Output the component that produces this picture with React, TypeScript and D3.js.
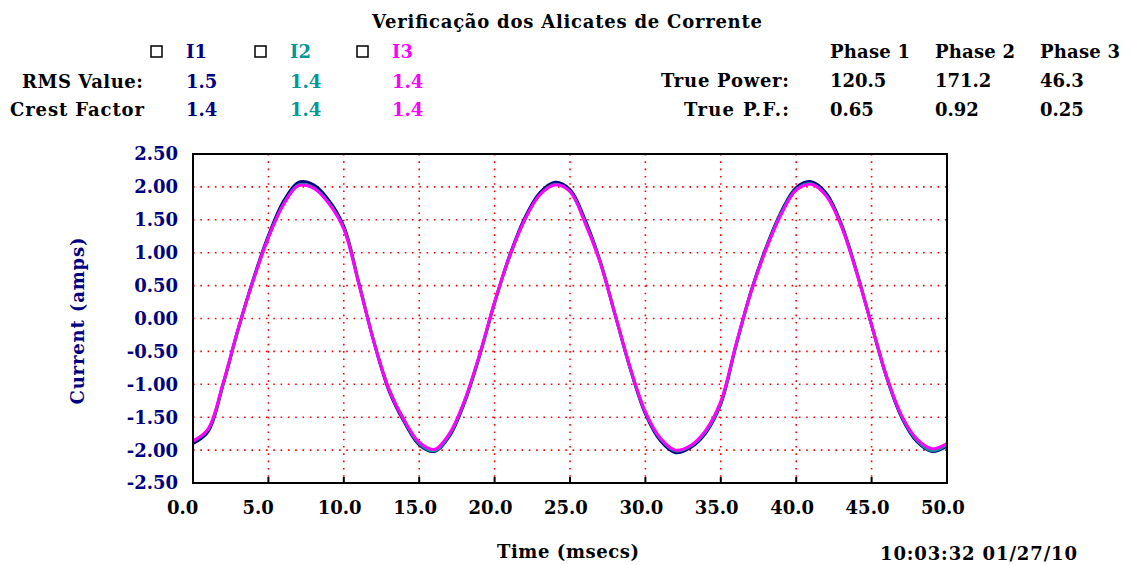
import React from "react";
import * as d3 from "d3";

// samples of the three clamp currents, one every millisecond
const sampleTimes = [
  0, 1, 2, 3, 4, 5, 6, 7, 8, 9, 10, 11, 12, 13, 14, 15, 16, 17, 18, 19, 20,
  21, 22, 23, 24, 25, 26, 27, 28, 29, 30, 31, 32, 33, 34, 35, 36, 37, 38, 39,
  40, 41, 42, 43, 44, 45, 46, 47, 48, 49, 50,
];
const i1Values = [
  -1.9, -1.72, -1.0, -0.16, 0.6, 1.26, 1.78, 2.07, 2.03, 1.8, 1.4, 0.54,
  -0.36, -1.1, -1.57, -1.92, -2.02, -1.79, -1.28, -0.57, 0.24, 0.96, 1.53,
  1.91, 2.07, 1.96, 1.5, 0.87, 0.05, -0.77, -1.45, -1.86, -2.04, -1.96, -1.74,
  -1.3, -0.42, 0.41, 1.08, 1.62, 1.99, 2.08, 1.9, 1.43, 0.72, -0.1, -0.9,
  -1.51, -1.87, -2.02, -1.94,
];
const i2Values = [
  -1.87, -1.69, -0.99, -0.16, 0.58, 1.23, 1.74, 2.03, 1.99, 1.76, 1.37, 0.53,
  -0.35, -1.07, -1.55, -1.9, -2.01, -1.77, -1.26, -0.56, 0.24, 0.94, 1.5, 1.88,
  2.04, 1.93, 1.47, 0.86, 0.05, -0.76, -1.43, -1.83, -2.01, -1.94, -1.72,
  -1.28, -0.41, 0.4, 1.06, 1.6, 1.96, 2.05, 1.87, 1.41, 0.71, -0.1, -0.89,
  -1.49, -1.85, -2.01, -1.92,
];
const i3Values = [
  -1.86, -1.68, -0.98, -0.15, 0.58, 1.23, 1.73, 2.02, 1.98, 1.75, 1.36, 0.52,
  -0.36, -1.08, -1.54, -1.88, -1.99, -1.75, -1.25, -0.55, 0.25, 0.95, 1.5,
  1.88, 2.03, 1.93, 1.45, 0.85, 0.05, -0.75, -1.42, -1.82, -2.0, -1.93, -1.7,
  -1.26, -0.4, 0.4, 1.05, 1.58, 1.95, 2.04, 1.86, 1.4, 0.7, -0.1, -0.88, -1.48,
  -1.83, -1.98, -1.9,
];

const channelNames = ["I1", "I2", "I3"];
const channelColors = ["#000080", "#009999", "#ff00ff"];
const rmsValues = ["1.5", "1.4", "1.4"];
const crestFactors = ["1.4", "1.4", "1.4"];

const phaseNames = ["Phase 1", "Phase 2", "Phase 3"];
const truePower = ["120.5", "171.2", "46.3"];
const truePF = ["0.65", "0.92", "0.25"];

const yTicks = [2.5, 2.0, 1.5, 1.0, 0.5, 0.0, -0.5, -1.0, -1.5, -2.0, -2.5];
const xTicks = [0, 5, 10, 15, 20, 25, 30, 35, 40, 45, 50];

const W = 1131;
const H = 565;
const plot = { left: 193, top: 154, right: 947, bottom: 483 };
const font = "'DejaVu Serif', serif";

export default function App() {
  const x = d3.scaleLinear().domain([0, 50]).range([plot.left, plot.right]);
  const y = d3.scaleLinear().domain([-2.5, 2.5]).range([plot.bottom, plot.top]);

  const line = d3
    .line<number>()
    .x((_, i) => x(sampleTimes[i]))
    .y((d) => y(d))
    .curve(d3.curveCatmullRom);

  const series = [i1Values, i2Values, i3Values];
  const colX = [186, 290, 392];
  const phaseX = [830, 935, 1040];

  return (
    <svg
      width={W}
      height={H}
      style={{ position: "absolute", left: 0, top: 0, background: "#fff" }}
      fontFamily={font}
      fontWeight="bold"
    >
      <text x={567} y={28} fontSize={18} textAnchor="middle" textLength={390}>
        Verificação dos Alicates de Corrente
      </text>

      {/* legend + per-channel values */}
      {channelNames.map((name, i) => (
        <g key={name}>
          <rect
            x={colX[i] - 35}
            y={46}
            width={11}
            height={11}
            fill="#fff"
            stroke="#000"
            strokeWidth={1.5}
          />
          <text x={colX[i]} y={58} fontSize={18} fill={channelColors[i]}>
            {name}
          </text>
          <text x={colX[i]} y={88} fontSize={18} fill={channelColors[i]}>
            {rmsValues[i]}
          </text>
          <text x={colX[i]} y={116} fontSize={18} fill={channelColors[i]}>
            {crestFactors[i]}
          </text>
        </g>
      ))}
      <text x={22} y={88} fontSize={18} textLength={121}>
        RMS Value:
      </text>
      <text x={10} y={116} fontSize={18} textLength={134}>
        Crest Factor
      </text>

      {/* power table */}
      <text x={661} y={87} fontSize={18} textLength={128}>
        True Power:
      </text>
      <text x={684} y={116} fontSize={18} textLength={105}>
        True P.F.:
      </text>
      {phaseNames.map((p, i) => (
        <g key={p}>
          <text x={phaseX[i]} y={58} fontSize={18} textLength={80}>
            {p}
          </text>
          <text x={phaseX[i]} y={87} fontSize={18}>
            {truePower[i]}
          </text>
          <text x={phaseX[i]} y={116} fontSize={18}>
            {truePF[i]}
          </text>
        </g>
      ))}

      {/* grid */}
      {yTicks
        .filter((t) => t > -2.5 && t < 2.5)
        .map((t) => (
          <line
            key={"gy" + t}
            x1={plot.left}
            x2={plot.right}
            y1={y(t)}
            y2={y(t)}
            stroke="#ff0000"
            strokeWidth={1.6}
            strokeDasharray="1.6 5.7"
          />
        ))}
      {xTicks
        .filter((t) => t > 0 && t < 50)
        .map((t) => (
          <line
            key={"gx" + t}
            x1={x(t)}
            x2={x(t)}
            y1={plot.top}
            y2={plot.bottom}
            stroke="#ff0000"
            strokeWidth={1.6}
            strokeDasharray="1.6 5.7"
          />
        ))}

      {/* waveforms */}
      {series.map((s, i) => (
        <path
          key={i}
          d={line(s) || ""}
          fill="none"
          stroke={channelColors[i]}
          strokeWidth={3}
          strokeLinejoin="round"
        />
      ))}

      {/* frame and ticks */}
      <rect
        x={plot.left}
        y={plot.top}
        width={plot.right - plot.left}
        height={plot.bottom - plot.top}
        fill="none"
        stroke="#000"
        strokeWidth={2}
      />
      {xTicks
        .filter((t) => t > 0 && t < 50)
        .map((t) => (
          <line
            key={"tk" + t}
            x1={x(t)}
            x2={x(t)}
            y1={plot.bottom}
            y2={plot.bottom - 6}
            stroke="#000"
            strokeWidth={2}
          />
        ))}

      {yTicks.map((t) => (
        <text
          key={"yl" + t}
          x={178}
          y={y(t)}
          dy="0.36em"
          fontSize={18}
          textAnchor="end"
          fill="#000080"
        >
          {t.toFixed(2)}
        </text>
      ))}
      {xTicks.map((t) => (
        <text key={"xl" + t} x={x(t) - 26} y={514} fontSize={18}>
          {t.toFixed(1)}
        </text>
      ))}

      <text
        transform="translate(84,321) rotate(-90)"
        fontSize={18}
        textAnchor="middle"
        textLength={167}
        fill="#000080"
      >
        Current (amps)
      </text>
      <text x={497} y={558} fontSize={18} textLength={142}>
        Time (msecs)
      </text>
      <text x={880} y={560} fontSize={18} textLength={197}>
        10:03:32 01/27/10
      </text>
    </svg>
  );
}
